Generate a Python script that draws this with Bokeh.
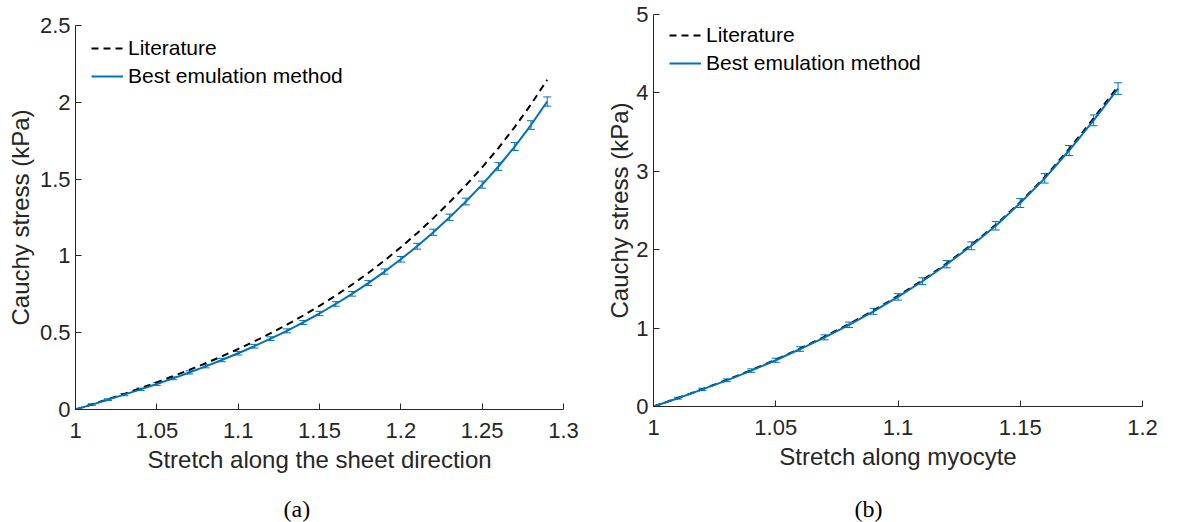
from bokeh.plotting import figure
from bokeh.models import (ColumnDataSource, Range1d, FixedTicker, CustomJSTickFormatter,
                          Whisker, TeeHead, Title)
from bokeh.layouts import row, column
from bokeh.embed import file_html
from bokeh.resources import INLINE

# ---------------- data: panel (a) ----------------
stretch_a = [1.00, 1.01, 1.02, 1.03, 1.04, 1.05, 1.06, 1.07, 1.08, 1.09,
             1.10, 1.11, 1.12, 1.13, 1.14, 1.15, 1.16, 1.17, 1.18, 1.19,
             1.20, 1.21, 1.22, 1.23, 1.24, 1.25, 1.26, 1.27, 1.28, 1.29]
literature_a = [0, 0.033, 0.067, 0.102, 0.139, 0.177, 0.217, 0.258, 0.301, 0.346,
                0.394, 0.444, 0.497, 0.552, 0.612, 0.675, 0.742, 0.813, 0.889, 0.970,
                1.056, 1.148, 1.246, 1.350, 1.460, 1.577, 1.702, 1.839, 1.986, 2.147]
emulation_a = [0, 0.032, 0.064, 0.097, 0.131, 0.166, 0.203, 0.241, 0.281, 0.322,
               0.366, 0.412, 0.461, 0.512, 0.567, 0.625, 0.687, 0.753, 0.823, 0.898,
               0.978, 1.063, 1.154, 1.251, 1.354, 1.464, 1.582, 1.712, 1.852, 2.005]
error_a = [0, 0.005, 0.006, 0.007, 0.008, 0.009, 0.009, 0.010, 0.010, 0.011,
           0.011, 0.012, 0.012, 0.013, 0.013, 0.014, 0.015, 0.015, 0.016, 0.017,
           0.018, 0.019, 0.020, 0.021, 0.022, 0.023, 0.025, 0.026, 0.028, 0.030]
xticks_a = [1, 1.05, 1.1, 1.15, 1.2, 1.25, 1.3]
yticks_a = [0, 0.5, 1, 1.5, 2, 2.5]

# ---------------- data: panel (b) ----------------
stretch_b = [1.00, 1.01, 1.02, 1.03, 1.04, 1.05, 1.06, 1.07, 1.08, 1.09,
             1.10, 1.11, 1.12, 1.13, 1.14, 1.15, 1.16, 1.17, 1.18, 1.19]
literature_b = [0, 0.108, 0.221, 0.339, 0.464, 0.597, 0.740, 0.891, 1.052, 1.225,
                1.410, 1.610, 1.827, 2.062, 2.318, 2.605, 2.925, 3.285, 3.675, 4.085]
emulation_b = [0, 0.106, 0.218, 0.334, 0.458, 0.590, 0.733, 0.882, 1.042, 1.214,
               1.398, 1.598, 1.815, 2.050, 2.305, 2.595, 2.910, 3.265, 3.650, 4.055]
error_b = [0, 0.012, 0.015, 0.018, 0.022, 0.026, 0.029, 0.032, 0.035, 0.038,
           0.041, 0.044, 0.047, 0.050, 0.054, 0.057, 0.060, 0.064, 0.069, 0.074]
xticks_b = [1, 1.05, 1.1, 1.15, 1.2]
yticks_b = [0, 1, 2, 3, 4, 5]

BLUE = "#0072BD"
DARK = "#262626"
SANS = "Liberation Sans"
SERIF = "Liberation Serif"
MAIN_H = 493
CAP_H = 29


def panel(x, lit, emu, err, xr, yr, xt, yt, xlabel, width,
          b_left, b_right, b_top, b_bottom, leg_xy, ylab_standoff):
    p = figure(width=width, height=MAIN_H, output_backend="svg", toolbar_location=None,
               x_range=Range1d(*xr), y_range=Range1d(*yr),
               min_border_left=b_left, min_border_right=b_right,
               min_border_top=b_top, min_border_bottom=b_bottom)
    p.outline_line_color = None
    p.grid.visible = False
    p.background_fill_color = "white"
    p.border_fill_color = "white"

    lower = [v - e for v, e in zip(emu, err)]
    upper = [v + e for v, e in zip(emu, err)]
    src = ColumnDataSource(dict(x=x, lit=lit, emu=emu, lower=lower, upper=upper))

    p.line("x", "lit", source=src, line_color="black", line_width=2,
           line_dash="7 5", legend_label="Literature")
    p.line("x", "emu", source=src, line_color=BLUE, line_width=2,
           legend_label="Best emulation method")
    p.add_layout(Whisker(source=src, base="x", lower="lower", upper="upper",
                         dimension="height", line_color=BLUE, line_width=1,
                         upper_head=TeeHead(size=8, line_color=BLUE, line_width=1),
                         lower_head=TeeHead(size=8, line_color=BLUE, line_width=1)))

    fmt = CustomJSTickFormatter(code="return String(parseFloat(tick.toFixed(4)));")
    for ax, ticks in ((p.xaxis[0], xt), (p.yaxis[0], yt)):
        ax.ticker = FixedTicker(ticks=ticks)
        ax.formatter = fmt
        ax.minor_tick_line_color = None
        ax.major_tick_in = 6
        ax.major_tick_out = 0
        ax.axis_line_color = DARK
        ax.major_tick_line_color = DARK
        ax.major_label_text_color = DARK
        ax.major_label_text_font = SANS
        ax.major_label_text_font_size = "22px"
        ax.axis_label_text_font = SANS
        ax.axis_label_text_font_size = "24px"
        ax.axis_label_text_font_style = "normal"
        ax.axis_label_text_color = DARK
    p.xaxis[0].axis_label = xlabel
    p.xaxis[0].major_label_standoff = 13
    p.xaxis[0].axis_label_standoff = 5
    p.yaxis[0].axis_label = "Cauchy stress (kPa)"
    p.yaxis[0].major_label_standoff = 5
    p.yaxis[0].axis_label_standoff = ylab_standoff

    leg = p.legend[0]
    leg.location = leg_xy
    leg.border_line_color = None
    leg.background_fill_alpha = 0
    leg.padding = 0
    leg.margin = 0
    leg.spacing = 4
    leg.glyph_width = 32
    leg.glyph_height = 24
    leg.label_height = 24
    leg.label_standoff = 5
    leg.label_text_font = SANS
    leg.label_text_font_size = "21px"
    leg.label_text_color = "black"
    return p


def caption_strip(text, width, b_left, b_right, offset):
    c = figure(width=width, height=CAP_H, output_backend="svg", toolbar_location=None,
               x_range=Range1d(0, 1), y_range=Range1d(0, 1),
               x_axis_type=None, y_axis_type=None,
               min_border_left=b_left, min_border_right=b_right,
               min_border_top=0, min_border_bottom=0)
    c.outline_line_color = None
    c.background_fill_color = "white"
    c.border_fill_color = "white"
    c.add_layout(Title(text=text, align="left", offset=offset, standoff=0,
                       text_font=SERIF, text_font_size="24px", text_font_style="normal",
                       text_color="black"), "above")
    return c


pa = panel(stretch_a, literature_a, emulation_a, error_a, (1, 1.3), (0, 2.5),
           xticks_a, yticks_a, "Stretch along the sheet direction",
           600, 75, 37, 25, MAIN_H - 409, (16, 321), 3)
pb = panel(stretch_b, literature_b, emulation_b, error_b, (1, 1.2), (0, 5),
           xticks_b, yticks_b, "Stretch along myocyte",
           596, 53, 54, 14, MAIN_H - 406, (16, 331), 0)
ca = caption_strip("(a)", 600, 75, 37, 208)
cb = caption_strip("(b)", 596, 53, 54, 201)

layout = row(column(row(pa), row(ca)), column(row(pb), row(cb)))
open("out.html", "w").write(file_html(layout, INLINE))
